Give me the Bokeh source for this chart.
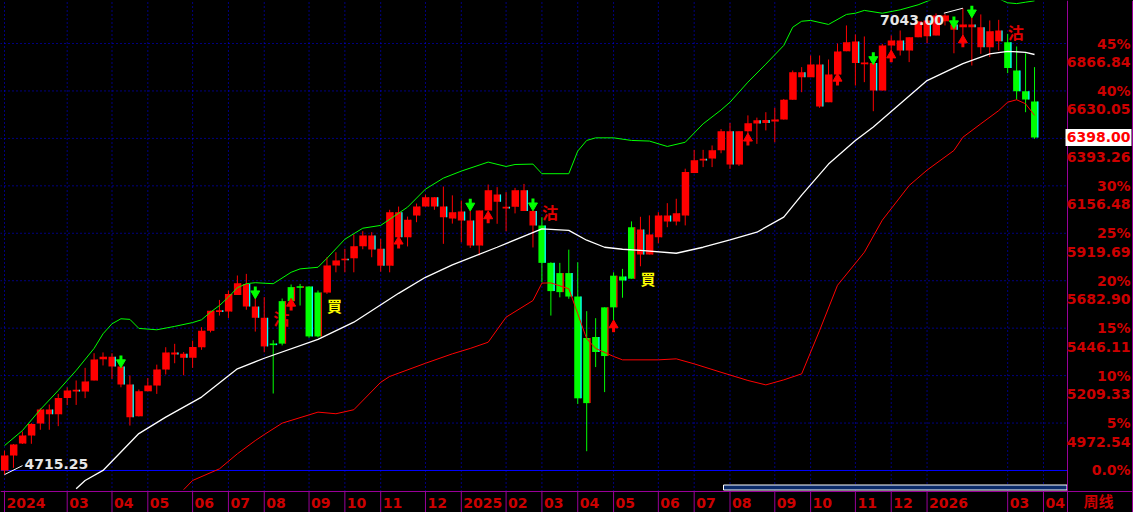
import numpy as np
from bokeh.plotting import figure
from bokeh.models import Range1d, ColumnDataSource, Grid, GlobalInlineStyleSheet
from bokeh.core.properties import value
from bokeh.embed import file_html
from bokeh.resources import INLINE

# ---------------- data (weekly candles) ----------------
opens = [4735.75, 4810, 4870, 4910, 4970, 5040, 5017, 5097, 5139, 5130,
         5185, 5291, 5303, 5255, 5165, 5006, 5131, 5160, 5240, 5325,
         5318, 5298, 5351, 5433, 5535, 5529, 5612, 5667, 5554, 5498,
         5368, 5369, 5581, 5650, 5654, 5405, 5624, 5759, 5790, 5795,
         5855, 5908, 5843, 5758, 6025, 5900, 6008, 6053, 6100, 6053,
         5993, 6028, 5983, 5859, 6034, 6113, 6049, 6052, 6134, 6031,
         5959, 5772, 5626, 5721, 5604, 5072, 5402, 5307, 5550, 5704,
         5693, 5938, 5814, 5900, 6008, 5978, 6008, 6220, 6291, 6293,
         6334, 6429, 6263, 6429, 6484, 6485, 6477, 6487, 6586, 6724,
         6699, 6762, 6574, 6712, 6828, 6877, 6766, 6769, 6632, 6857,
         6882, 6832, 6898, 6982, 6907, 6978, 6962, 6948, 6962, 6948,
         6848, 6932, 6873, 6732, 6629, 6577]
highs = [4835, 4868, 4930, 4972, 5046, 5065, 5118, 5151, 5185, 5248,
         5321, 5325, 5321, 5256, 5210, 5140, 5197, 5264, 5351, 5368,
         5327, 5384, 5451, 5533, 5587, 5634, 5709, 5717, 5604, 5601,
         5386, 5594, 5664, 5667, 5655, 5634, 5800, 5825, 5842, 5913,
         5930, 5925, 5892, 6037, 6053, 6003, 6068, 6113, 6100, 6153,
         6109, 6083, 6037, 6033, 6163, 6150, 6125, 6146, 6166, 6035,
         6000, 5775, 5772, 5838, 5775, 5531, 5496, 5550, 5725, 5742,
         5979, 6002, 6009, 6025, 6070, 6092, 6242, 6336, 6336, 6358,
         6440, 6470, 6429, 6508, 6497, 6524, 6546, 6590, 6732, 6749,
         6807, 6807, 6787, 6867, 6957, 6912, 6902, 6770, 6865, 6907,
         6932, 6898, 6977, 6982, 7017, 7015, 6962, 7043, 7002, 7012,
         6982, 6985, 6915, 6852, 6818, 6749]
lows = [4715.25, 4749, 4868, 4869, 4939, 4939, 4957, 5062, 5063, 5097,
        5185, 5260, 5193, 5151, 4960, 5005, 5131, 5118, 5215, 5271,
        5211, 5248, 5338, 5425, 5509, 5497, 5612, 5538, 5429, 5326,
        5120, 5360, 5581, 5559, 5398, 5400, 5617, 5725, 5725, 5725,
        5840, 5800, 5728, 5725, 5847, 5854, 5975, 6053, 6037, 5867,
        5968, 5875, 5847, 5809, 6034, 5967, 5930, 6019, 6031, 5849,
        5675, 5509, 5600, 5593, 5068, 4832, 5252, 5127, 5434, 5598,
        5693, 5755, 5814, 5870, 5950, 5959, 5959, 6220, 6250, 6250,
        6319, 6241, 6256, 6366, 6366, 6433, 6374, 6487, 6586, 6624,
        6699, 6546, 6574, 6666, 6828, 6657, 6674, 6529, 6632, 6823,
        6807, 6774, 6898, 6868, 6907, 6957, 6818, 6882, 6757, 6815,
        6799, 6832, 6719, 6586, 6524, 6391]
closes = [4810, 4865, 4910, 4968, 5040, 5017, 5097, 5135, 5130, 5180,
          5290, 5303, 5255, 5165, 5002, 5131, 5160, 5240, 5325, 5315,
          5298, 5352, 5433, 5533, 5527, 5617, 5670, 5554, 5498, 5355,
          5363, 5581, 5651, 5653, 5405, 5624, 5759, 5784, 5788, 5855,
          5908, 5839, 5758, 6025, 5900, 5987, 6053, 6100, 6053, 6000,
          6025, 5983, 5859, 6033, 6134, 6077, 6046, 6134, 6031, 5959,
          5772, 5631, 5721, 5604, 5096, 5397, 5327, 5550, 5708, 5684,
          5950, 5814, 5914, 6008, 5978, 6020, 6225, 6284, 6284, 6334,
          6429, 6263, 6429, 6469, 6467, 6470, 6487, 6586, 6724, 6699,
          6762, 6552, 6712, 6827, 6873, 6769, 6769, 6632, 6857, 6882,
          6832, 6898, 6977, 6903, 7007, 7007, 6935, 6962, 6948, 6848,
          6928, 6878, 6744, 6629, 6587, 6398]

# Bollinger band lines (candle index, price)
upper_idx = [0, 2, 4, 6, 8, 10, 11, 12, 13, 14, 15, 17, 19, 21, 22, 23, 24, 25, 26,
             27, 28, 30, 32, 33, 35, 36, 38, 40, 42, 45, 47, 49, 51, 54, 56, 57,
             59, 60, 63, 64, 65, 66, 68, 70, 72, 74, 76, 78, 80, 81, 83, 85, 87, 88,
             89, 90, 92, 94, 95, 96, 98, 100, 102, 104, 106, 108, 110, 112, 113, 114, 115]
upper_val = [4860, 4935, 5040, 5135, 5235, 5345, 5418, 5468, 5493, 5490, 5445, 5438,
             5455, 5474, 5488, 5526, 5559, 5601, 5648, 5668, 5673, 5668, 5725, 5742,
             5750, 5795, 5890, 5945, 5959, 6050, 6140, 6195, 6230, 6275, 6253,
             6263, 6265, 6217, 6217, 6330, 6383, 6396, 6396, 6383, 6380, 6353, 6374,
             6466, 6535, 6574, 6674, 6764, 6857, 6948, 6978, 6982, 6962, 7012, 7018,
             7032, 7018, 7035, 7060, 7095, 7115, 7120, 7110, 7070, 7066, 7073, 7080]
mid_idx = [8, 9, 11, 15, 18, 22, 26, 29, 35, 39, 44, 47, 50, 55, 60, 63, 65, 67,
           69, 71, 75, 78, 81, 84, 87, 89, 92, 95, 97, 100, 103, 107, 110, 112, 114, 115]
mid_val = [4645, 4686, 4736, 4920, 5002, 5102, 5243, 5296, 5390, 5476, 5620, 5700,
           5762, 5850, 5942, 5934, 5885, 5850, 5840, 5834, 5820, 5850, 5887, 5925,
           6000, 6110, 6265, 6383, 6450, 6566, 6682, 6766, 6815, 6828, 6823, 6812]
lower_idx = [20, 21, 24, 26, 28, 29, 31, 35, 37, 39, 42, 43, 47, 50, 52, 54, 56, 59,
             60, 61, 63, 64, 65, 66, 68, 69, 73, 75, 77, 80, 83, 85, 87, 89, 91, 93,
             96, 98, 101, 103, 106, 107, 109, 111, 112, 113, 114, 115]
lower_val = [4640, 4686, 4744, 4819, 4885, 4915, 4972, 5027, 5019, 5039, 5176, 5205,
             5271, 5318, 5345, 5376, 5501, 5584, 5671, 5672, 5643, 5518, 5393, 5345,
             5305, 5288, 5288, 5293, 5268, 5226, 5185, 5163, 5188, 5218, 5434, 5660,
             5825, 5985, 6158, 6235, 6333, 6399, 6466, 6532, 6574, 6586, 6566, 6508]

# trading signals
sell_idx = [30, 60, 112]            # "沽"
sell_level = [5499, 6028, 6922]
buy_idx = [36, 71]                  # "買"
buy_level = [5557, 5696]
down_arrow_idx = [13, 28, 52, 59, 97, 106, 108]
down_arrow_tip = [5260, 5604, 6042, 6043, 6773, 6952, 7006]
up_arrow_idx = [32, 44, 54, 68, 83, 93, 99, 107]
up_arrow_tip = [5584, 5894, 6020, 5476, 6408, 6707, 6823, 6898]

# axis ticks / labels
tick_idx = [0, 7, 12, 16, 21, 25, 29, 34, 38, 42, 47, 51, 56, 60, 64, 68, 73, 77,
            81, 86, 90, 95, 99, 103, 112, 116]
tick_lbl = ["2024", "03", "04", "05", "06", "07", "08", "09", "10", "11", "12",
            "2025", "02", "03", "04", "05", "06", "07", "08", "09", "10", "11", "12",
            "2026", "03", "04"]
pct_levels = [0, 5, 10, 15, 20, 25, 30, 35, 40, 45]
pct_labels = ["0.0%", "5%", "10%", "15%", "20%", "25%", "30%", "35%", "40%", "45%"]
price_labels = ["", "4972.54", "5209.33", "5446.11", "5682.90", "5919.69",
                "6156.48", "6393.26", "6630.05", "6866.84"]
period_label = "周线"

# ---------------- layout / style ----------------
W, H = 1133, 512            # canvas
CW, CH = 1067, 491          # price-chart area (top-left of canvas)
X0, X1 = -0.447, 118.68     # index range of the chart area
Y0, Y1 = 4630.9, 7081.5     # price range of the chart area
PX = CW / (X1 - X0)         # px per candle
PY = CH / (Y1 - Y0)         # px per price point
XR = X0 + W / PX            # canvas right edge in index units
YB = Y1 - H / PY            # canvas bottom edge in price units


def sx(px):
    return X0 + px / PX


def sy(py):
    return Y1 - py / PY


RED = "#ff0000"
GREEN = "#00ff00"
CYAN = "#00ffff"
PURPLE = "#990099"
BLUE = "#0000ff"
AXRED = "#cc0000"
FONT = value("DejaVu Sans")
FS = "14px"

n = len(opens)
idx = np.arange(n)
o = np.array(opens, float)
h = np.array(highs, float)
l = np.array(lows, float)
c = np.array(closes, float)
base = o[0]

# regime colour from the signals
flip = {i: GREEN for i in sell_idx}
flip.update({i: RED for i in buy_idx})
col, state = [], RED
for i in range(n):
    state = flip.get(i, state)
    col.append(state)
up = c >= o
edge = [RED if u else CYAN for u in up]
top = np.maximum(o, c)
bot = np.minimum(o, c)
thin = (top - bot) < 8
top = np.where(thin, (o + c) / 2 + 4, top)
bot = np.where(thin, (o + c) / 2 - 4, bot)

src = ColumnDataSource(dict(x=idx, o=o, h=h, l=l, c=c, top=top, bot=bot,
                            col=col, edge=edge, ex=idx + 0.37))

p = figure(width=W, height=H, x_range=Range1d(X0, XR), y_range=Range1d(YB, Y1),
           output_backend="svg", toolbar_location=None,
           x_axis_location=None, y_axis_location=None,
           background_fill_color="black", border_fill_color="black",
           outline_line_color=None, min_border=0)
p.center = [r for r in p.center if not isinstance(r, Grid)]
p.stylesheets = [GlobalInlineStyleSheet(css="html, body { background-color: #000000; }")]

# grid (dotted blue) and 0% base line
grid_prices = [base * (1 + q / 100) for q in pct_levels]
p.segment(x0=X0, x1=X1, y0=grid_prices[1:], y1=grid_prices[1:], line_color=BLUE,
          line_dash="1 3", line_width=1)
p.segment(x0=tick_idx, x1=tick_idx, y0=Y0, y1=Y1, line_color=BLUE,
          line_dash="1 3", line_width=1)
p.segment(x0=X0, x1=X1, y0=base, y1=base, line_color=BLUE, line_width=1)

# signal glyphs (drawn under candles)
p.text(x=sell_idx, y=sell_level, text=["沽"] * len(sell_idx), text_color="#e00000",
       text_font=value("Noto Sans CJK TC"), text_font_size="16px", text_font_style="bold",
       text_align="left", text_baseline="middle")
p.text(x=buy_idx, y=buy_level, text=["買"] * len(buy_idx), text_color="#ffff00",
       text_font=value("Noto Sans CJK TC"), text_font_size="15px", text_font_style="bold",
       text_align="left", text_baseline="middle")

# candles
p.segment(x0="x", y0="l", x1="x", y1="h", line_color="col", line_width=1, source=src)
p.vbar(x="x", width=0.78, top="top", bottom="bot", fill_color="col", line_color=None,
       source=src)
p.segment(x0="ex", y0="bot", x1="ex", y1="top", line_color="edge", line_width=1.3,
          source=src)

# bands
p.line(upper_idx, upper_val, line_color=GREEN, line_width=1)
p.line(mid_idx, mid_val, line_color="white", line_width=1.3)
p.line(lower_idx, lower_val, line_color=RED, line_width=1)

# arrows
da = np.array(down_arrow_tip, float)
p.segment(x0=down_arrow_idx, x1=down_arrow_idx, y0=da + 5 / PY, y1=da + 10 / PY,
          line_color=GREEN, line_width=3)
p.scatter(down_arrow_idx, da + 3 / PY, marker="inverted_triangle", size=9,
          fill_color=GREEN, line_color=GREEN)
ua = np.array(up_arrow_tip, float)
p.segment(x0=up_arrow_idx, x1=up_arrow_idx, y0=ua - 5 / PY, y1=ua - 10 / PY,
          line_color=RED, line_width=3)
p.scatter(up_arrow_idx, ua - 3 / PY, marker="triangle", size=9,
          fill_color=RED, line_color=RED)

# min / max markers
imin, imax = int(np.argmin(l)), int(np.argmax(h))
p.segment(x0=[imin, imax], y0=[l[imin], h[imax]],
          x1=[imin + 18 / PX, imax - 19 / PX], y1=[l[imin] + 9 / PY, h[imax] - 5 / PY],
          line_color="white", line_width=1)
p.text(x=[imin + 20 / PX], y=[l[imin] + 11 / PY], text=[f"{l[imin]:.2f}"],
       text_color="#e6e6e6", text_font=FONT, text_font_size=FS, text_font_style="bold",
       text_align="left", text_baseline="middle")
p.text(x=[imax - 19 / PX], y=[h[imax] - 12 / PY], text=[f"{h[imax]:.2f}"],
       text_color="#e6e6e6", text_font=FONT, text_font_size=FS, text_font_style="bold",
       text_align="right", text_baseline="middle")

# scroll bar at the bottom of the chart area
p.quad(left=[sx(723)], right=[X1 - 0.05], bottom=[Y0 + 1.5 / PY], top=[Y0 + 6.5 / PY],
       fill_color="#0a2a6a", line_color="white", line_width=1)

# axis frame lines and ticks
p.segment(x0=X0, x1=XR, y0=Y0, y1=Y0, line_color=PURPLE, line_width=1)
p.segment(x0=[X1, sx(W - 1)], x1=[X1, sx(W - 1)], y0=YB, y1=Y1, line_color=PURPLE,
          line_width=1)
p.segment(x0=tick_idx, x1=tick_idx, y0=Y0, y1=YB, line_color=PURPLE, line_width=1)

# right axis labels
last = c[-1]
keep = [abs(q - last) > 12 / PY for q in grid_prices]
p.text(x=sx(1130), y=[q for q, k in zip(grid_prices, keep) if k],
       text=[t for t, k in zip(pct_labels, keep) if k], text_color=AXRED, text_font=FONT,
       text_font_size=FS, text_font_style="bold", text_align="right",
       text_baseline="middle")
pl_y = [q - 18.5 / PY for q, t in zip(grid_prices, price_labels) if t]
pl_t = [t for t in price_labels if t]
p.text(x=sx(1130), y=pl_y, text=pl_t, text_color=AXRED, text_font=FONT,
       text_font_size=FS, text_font_style="bold", text_align="right",
       text_baseline="middle")

# current price box
p.quad(left=[sx(1065)], right=[sx(1131)], bottom=[last - 8.5 / PY], top=[last + 8.5 / PY],
       fill_color="white", line_color=None)
p.text(x=[sx(1130)], y=[last], text=[f"{last:.2f}"], text_color=RED, text_font=FONT,
       text_font_size=FS, text_font_style="bold", text_align="right",
       text_baseline="middle")

# bottom axis labels
p.text(x=np.array(tick_idx) + 2 / PX, y=sy(502), text=tick_lbl, text_color=AXRED,
       text_font=FONT, text_font_size=FS, text_font_style="bold", text_align="left",
       text_baseline="middle")
p.text(x=[sx(1083)], y=[sy(499.5)], text=[period_label], text_color=AXRED,
       text_font=value("Noto Sans CJK SC"), text_font_size="15px", text_font_style="bold",
       text_align="left", text_baseline="middle")

open("out.html", "w").write(file_html(p, INLINE))
